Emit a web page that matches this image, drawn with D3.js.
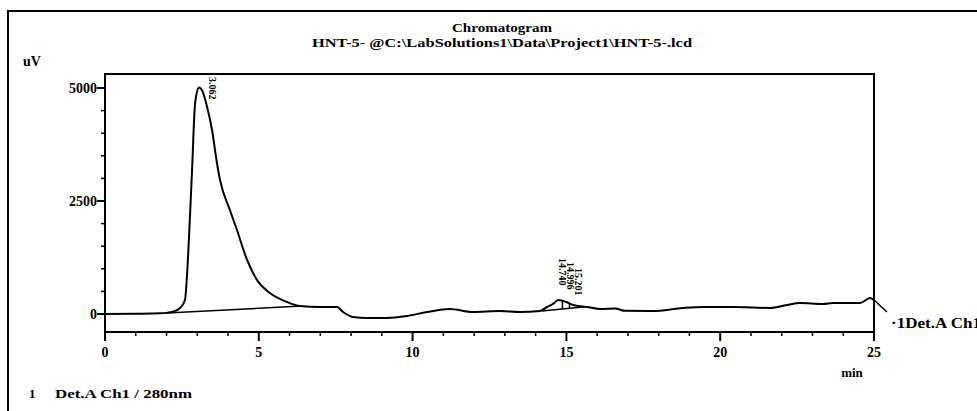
<!DOCTYPE html>
<html>
<head>
<meta charset="utf-8">
<script src="https://d3js.org/d3.v7.min.js"></script>
<style>
  body { margin: 0; background: #fff; }
  text { font-family: "Liberation Serif", "DejaVu Serif", serif; font-weight: bold; fill: #000; }
</style>
</head>
<body>
<svg id="chart" width="977" height="411"></svg>
<script>
// retention time (min) and detector signal (uV)
let times = [0, 1.0, 1.8, 2.0, 2.2, 2.44, 2.6, 2.7, 2.83, 2.93, 3.06, 3.15, 3.32, 3.48, 3.64, 3.74, 4.06, 4.29, 4.62, 4.94,
             5.36, 5.92, 6.34, 6.99, 7.54, 7.74, 8.06, 8.52, 9.17, 9.82, 10.47, 11.2, 11.96, 12.84, 13.49, 14.14,
             14.37, 14.56, 14.74, 15.0, 15.21, 15.67, 16.09, 16.6, 16.9, 17.8, 18.79, 19.44, 20.42, 21.62, 22.17,
             22.59, 23.34, 23.67, 24.55, 24.87, 25.0];
let signal = [0, 5, 15, 25, 50, 133, 310, 1260, 3186, 4668, 5010, 4956, 4580, 4070, 3340, 2965, 2300, 1858, 1195, 752,
              465, 265, 177, 155, 155, 44, -66, -88, -88, -44, 44, 110, 44, 66, 44, 66,
              155, 221, 310, 265, 199, 155, 110, 120, 70, 66, 133, 155, 155, 133, 199,
              243, 221, 243, 243, 354, 310];

let peakNames = ["3.062", "14.740", "14.996", "15.201"];
let peakTimes = [3.062, 14.74, 14.996, 15.201];

// integration baselines [t0, v0, t1, v1]
let baselines = [[2.0, 20, 6.4, 177], [14.2, 66, 15.6, 160]];
let dropTimes = [14.87, 15.1];

let xTicks = [0, 5, 10, 15, 20, 25];
let yTicks = [0, 2500, 5000];

const svg = d3.select("#chart");
let pl = 105, pr = 874, pt = 74, pb = 332;

const x = d3.scaleLinear().domain([0, 25]).range([pl, pr]);
const y = d3.scaleLinear().domain([0, 5000]).range([314, 88]);

// outer frame
svg.append("rect").attr("x", 8).attr("y", 11).attr("width", 1000).attr("height", 420)
   .attr("fill", "none").attr("stroke", "#000").attr("stroke-width", 2);

// titles
svg.append("text").attr("x", 502).attr("y", 32).attr("text-anchor", "middle")
   .attr("font-size", 13).attr("textLength", 100).attr("lengthAdjust", "spacingAndGlyphs").text("Chromatogram");
svg.append("text").attr("x", 502).attr("y", 47).attr("text-anchor", "middle")
   .attr("font-size", 13).attr("textLength", 380).attr("lengthAdjust", "spacingAndGlyphs")
   .text("HNT-5- @C:\\LabSolutions1\\Data\\Project1\\HNT-5-.lcd");
svg.append("text").attr("x", 23).attr("y", 66).attr("font-size", 14).text("uV");

// plot box
svg.append("rect").attr("x", pl).attr("y", pt).attr("width", pr - pl).attr("height", pb - pt)
   .attr("fill", "none").attr("stroke", "#000").attr("stroke-width", 2);

// x axis ticks
const xAxis = svg.append("g");
xAxis.selectAll("line").data(d3.range(0, 26)).enter().append("line")
   .attr("x1", d => x(d)).attr("x2", d => x(d))
   .attr("y1", pb).attr("y2", d => d % 5 == 0 ? pb + 9 : pb + 4)
   .attr("stroke", "#000").attr("stroke-width", d => d % 5 == 0 ? 2 : 1.5);
xAxis.selectAll("text").data(xTicks).enter().append("text")
   .attr("x", d => x(d)).attr("y", 357).attr("text-anchor", "middle").attr("font-size", 14)
   .text(d => d);
svg.append("text").attr("x", 852).attr("y", 377).attr("text-anchor", "middle").attr("font-size", 13).text("min");

// y axis ticks
const yAxis = svg.append("g");
yAxis.selectAll("line").data(d3.range(0, 5001, 500)).enter().append("line")
   .attr("x1", pl).attr("x2", d => d % 2500 == 0 ? pl - 8 : pl - 4)
   .attr("y1", d => y(d)).attr("y2", d => y(d))
   .attr("stroke", "#000").attr("stroke-width", d => d % 2500 == 0 ? 2 : 1.5);
yAxis.selectAll("text").data(yTicks).enter().append("text")
   .attr("x", 97).attr("y", d => y(d) + 5).attr("text-anchor", "end").attr("font-size", 14)
   .text(d => d);

// baselines
svg.selectAll(".base").data(baselines).enter().append("line").attr("class", "base")
   .attr("x1", d => x(d[0])).attr("y1", d => y(d[1])).attr("x2", d => x(d[2])).attr("y2", d => y(d[3]))
   .attr("stroke", "#000").attr("stroke-width", 1.5);

const sig = d3.scaleLinear().domain(times).range(signal);
let b = baselines[1];
svg.selectAll(".drop").data(dropTimes).enter().append("line").attr("class", "drop")
   .attr("x1", d => x(d)).attr("x2", d => x(d))
   .attr("y1", d => y(sig(d)))
   .attr("y2", d => y(b[1] + (b[3] - b[1]) * (d - b[0]) / (b[2] - b[0])))
   .attr("stroke", "#000").attr("stroke-width", 1.5);

// trace
const line = d3.line().x(d => x(d[0])).y(d => y(d[1])).curve(d3.curveMonotoneX);
svg.append("path").datum(times.map((t, i) => [t, signal[i]]))
   .attr("d", line).attr("fill", "none").attr("stroke", "#000").attr("stroke-width", 2);

// peak labels
let labelY = [77, 258, 262, 268];
let labelDx = [10, 1, 1, 2];
svg.selectAll(".peak").data(peakNames).enter().append("text").attr("class", "peak")
   .attr("font-size", 10)
   .attr("transform", (d, i) => "translate(" + (x(peakTimes[i]) + labelDx[i]) + "," + labelY[i] + ") rotate(90)")
   .text(d => d);

// channel label
let endV = signal[signal.length - 1];
svg.append("line").attr("x1", x(25)).attr("y1", y(endV)).attr("x2", x(25) + 13).attr("y2", y(endV) + 12)
   .attr("stroke", "#000").attr("stroke-width", 1.5);
svg.append("text").attr("x", 891).attr("y", 328).attr("font-size", 14)
   .attr("textLength", 90).attr("lengthAdjust", "spacingAndGlyphs").text("·1Det.A Ch1");

// legend
svg.append("text").attr("x", 29).attr("y", 398).attr("font-size", 13).text("1");
svg.append("text").attr("x", 55).attr("y", 398).attr("font-size", 13)
   .attr("textLength", 137).attr("lengthAdjust", "spacingAndGlyphs").text("Det.A Ch1 / 280nm");
</script>
</body>
</html>
